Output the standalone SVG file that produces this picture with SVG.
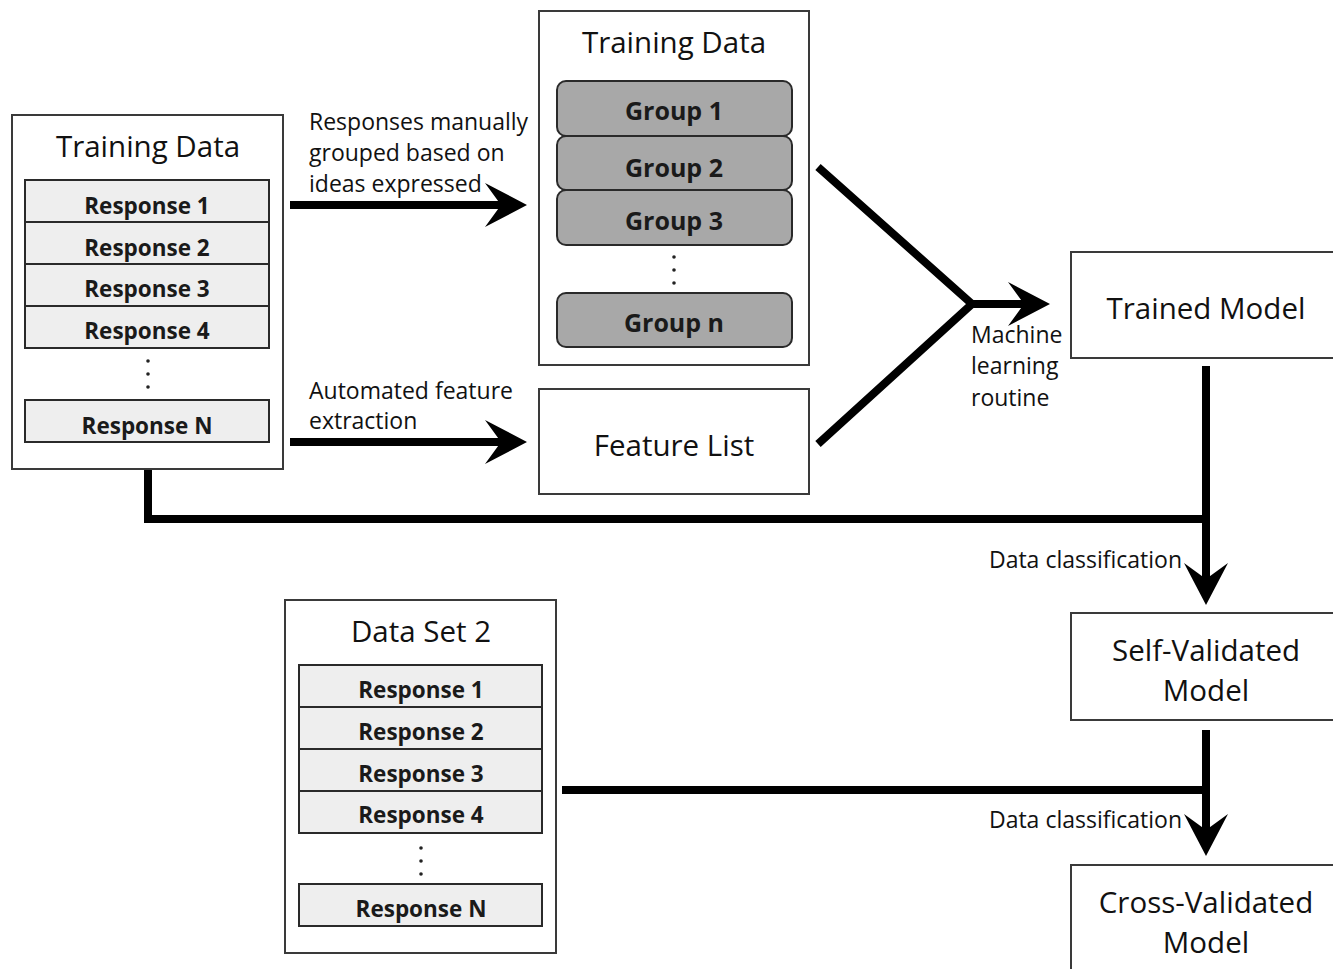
<svg xmlns="http://www.w3.org/2000/svg" width="1333" height="969" viewBox="0 0 1333 969">
<style>
.box{fill:#fff;stroke:#3a3a3a;stroke-width:2}
.row{fill:#eeeeee;stroke:#2a2a2a;stroke-width:2}
.grp{fill:#a8a8a8;stroke:#2a2a2a;stroke-width:2}
.title{font-family:"Open Sans","Noto Sans",sans-serif;font-size:29.5px;fill:#111;text-anchor:middle}
.rt{font-family:"Open Sans","Noto Sans",sans-serif;font-size:22.5px;font-weight:bold;fill:#1a1a1a;text-anchor:middle}
.gt{font-family:"Open Sans","Noto Sans",sans-serif;font-size:25px;font-weight:bold;fill:#1a1a1a;text-anchor:middle}
.lbl{font-family:"Open Sans","Noto Sans",sans-serif;font-size:23px;fill:#111}
.dot{fill:#222}
.conn{fill:none;stroke:#000;stroke-width:8;stroke-linejoin:miter}
</style>
<defs>
<marker id="arr" viewBox="-44 -24 46 48" refX="-20" refY="0" markerWidth="46" markerHeight="48" markerUnits="userSpaceOnUse" orient="auto">
<path d="M0,0 L-42,-22 L-26,0 L-42,22 Z" fill="#000"/>
</marker>
</defs>

<g id="training-data-left">
<rect class="box" x="12" y="115" width="271" height="354"/>
<text class="title" x="148" y="157">Training Data</text>
<rect class="row" x="25" y="180" width="244" height="42"/>
<text class="rt" x="147" y="214">Response 1</text>
<rect class="row" x="25" y="222" width="244" height="42"/>
<text class="rt" x="147" y="256">Response 2</text>
<rect class="row" x="25" y="264" width="244" height="42"/>
<text class="rt" x="147" y="297">Response 3</text>
<rect class="row" x="25" y="306" width="244" height="42"/>
<text class="rt" x="147" y="339">Response 4</text>
<circle class="dot" cx="148" cy="361" r="1.8"/>
<circle class="dot" cx="148" cy="374" r="1.8"/>
<circle class="dot" cx="148" cy="387" r="1.8"/>
<rect class="row" x="25" y="400" width="244" height="42"/>
<text class="rt" x="147" y="434">Response N</text>
</g>

<g id="training-data-groups">
<rect class="box" x="539" y="11" width="270" height="354"/>
<text class="title" x="674" y="53">Training Data</text>
<rect class="grp" x="557" y="81" width="235" height="55" rx="9"/>
<text class="gt" x="674" y="120">Group 1</text>
<rect class="grp" x="557" y="136" width="235" height="54" rx="9"/>
<text class="gt" x="674" y="177">Group 2</text>
<rect class="grp" x="557" y="190" width="235" height="55" rx="9"/>
<text class="gt" x="674" y="230">Group 3</text>
<circle class="dot" cx="674" cy="257" r="1.8"/>
<circle class="dot" cx="674" cy="270" r="1.8"/>
<circle class="dot" cx="674" cy="283" r="1.8"/>
<rect class="grp" x="557" y="293" width="235" height="54" rx="9"/>
<text class="gt" x="674" y="332">Group n</text>
</g>

<g id="feature-list">
<rect class="box" x="539" y="389" width="270" height="105"/>
<text class="title" x="674" y="456">Feature List</text>
</g>

<g id="trained-model">
<rect class="box" x="1071" y="252" width="270" height="106"/>
<text class="title" x="1206" y="319">Trained Model</text>
</g>

<g id="self-validated-model">
<rect class="box" x="1071" y="613" width="270" height="107"/>
<text class="title" x="1206" y="661">Self-Validated</text>
<text class="title" x="1206" y="701">Model</text>
</g>

<g id="cross-validated-model">
<rect class="box" x="1071" y="865" width="270" height="120"/>
<text class="title" x="1206" y="913">Cross-Validated</text>
<text class="title" x="1206" y="953">Model</text>
</g>

<g id="data-set-2">
<rect class="box" x="285" y="600" width="271" height="353"/>
<text class="title" x="421" y="642">Data Set 2</text>
<rect class="row" x="299" y="665" width="243" height="42"/>
<text class="rt" x="421" y="698">Response 1</text>
<rect class="row" x="299" y="707" width="243" height="42"/>
<text class="rt" x="421" y="740">Response 2</text>
<rect class="row" x="299" y="749" width="243" height="42"/>
<text class="rt" x="421" y="782">Response 3</text>
<rect class="row" x="299" y="791" width="243" height="42"/>
<text class="rt" x="421" y="823">Response 4</text>
<circle class="dot" cx="421" cy="848" r="1.8"/>
<circle class="dot" cx="421" cy="861" r="1.8"/>
<circle class="dot" cx="421" cy="874" r="1.8"/>
<rect class="row" x="299" y="884" width="243" height="42"/>
<text class="rt" x="421" y="917">Response N</text>
</g>

<g id="connectors">
<line class="conn" x1="290" y1="205" x2="507" y2="205" marker-end="url(#arr)"/>
<line class="conn" x1="290" y1="442" x2="507" y2="442" marker-end="url(#arr)"/>
<polyline class="conn" points="818,167 972,304 818,444"/>
<line class="conn" x1="970" y1="304" x2="1030" y2="304" marker-end="url(#arr)"/>
<line class="conn" x1="1206" y1="366" x2="1206" y2="585" marker-end="url(#arr)"/>
<polyline class="conn" points="148,470 148,519 1210,519"/>
<line class="conn" x1="1206" y1="730" x2="1206" y2="836" marker-end="url(#arr)"/>
<line class="conn" x1="562" y1="790" x2="1210" y2="790"/>
<text class="lbl" x="309" y="130">Responses manually</text>
<text class="lbl" x="309" y="161">grouped based on</text>
<text class="lbl" x="309" y="192">ideas expressed</text>
<text class="lbl" x="309" y="399">Automated feature</text>
<text class="lbl" x="309" y="429">extraction</text>
<text class="lbl" x="971" y="343">Machine</text>
<text class="lbl" x="971" y="374">learning</text>
<text class="lbl" x="971" y="406">routine</text>
<text class="lbl" x="1182" y="568" text-anchor="end">Data classification</text>
<text class="lbl" x="1182" y="828" text-anchor="end">Data classification</text>
</g>
</svg>
